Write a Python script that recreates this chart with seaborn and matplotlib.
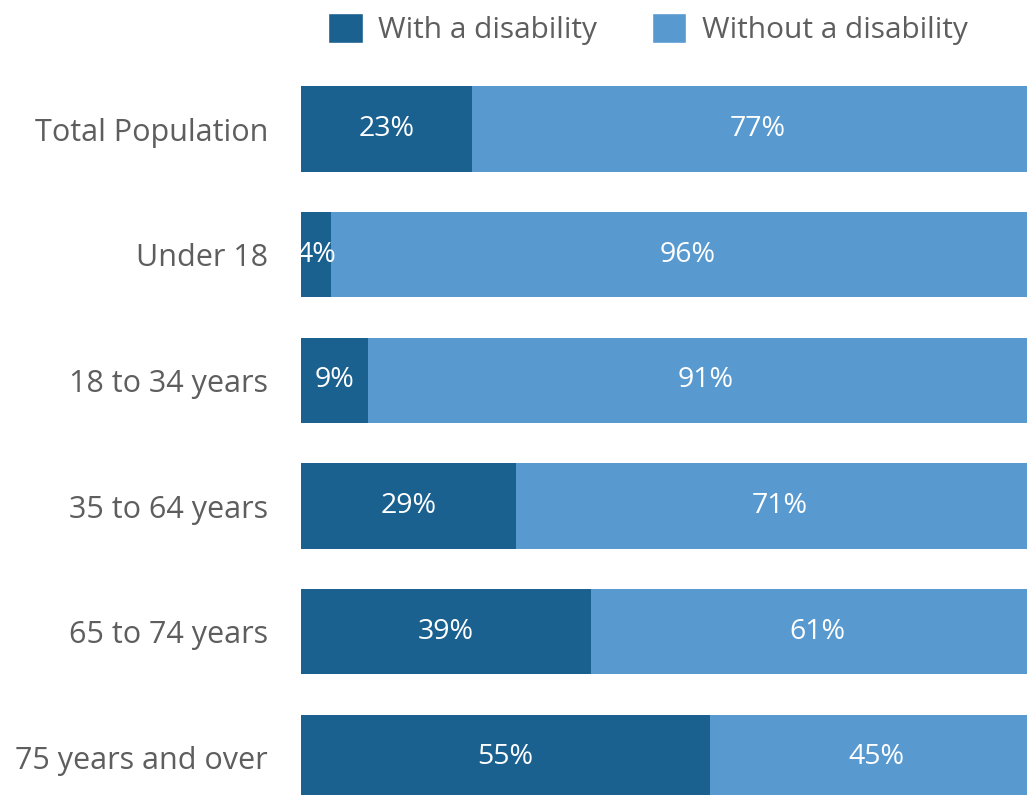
import pandas as pd
import matplotlib.pyplot as plt
import seaborn as sns
from matplotlib.patches import Patch

groups = ['Total Population', 'Under 18', '18 to 34 years', '35 to 64 years',
          '65 to 74 years', '75 years and over']
with_disability = [23, 4, 9, 29, 39, 55]
without_disability = [77, 96, 91, 71, 61, 45]

dark_blue = '#1a6190'
light_blue = '#5899d0'
text_grey = '#5e5e5e'

df = pd.DataFrame({
    'group': groups,
    'with': with_disability,
    'without': without_disability,
})
df['total'] = df['with'] + df['without']

sns.set_style('white')
plt.rcParams['font.family'] = ['Open Sans', 'DejaVu Sans']

fig = plt.figure(figsize=(10.27, 7.95), dpi=100)
ax = fig.add_axes([301 / 1027, 0, 743 / 1027, 1])

# full bar in light blue, then the with-disability part on top of it
sns.barplot(data=df, x='total', y='group', color=light_blue, width=0.68,
            saturation=1, ax=ax, orient='h', linewidth=0)
sns.barplot(data=df, x='with', y='group', color=dark_blue, width=0.68,
            saturation=1, ax=ax, orient='h', linewidth=0)

for i, row in df.iterrows():
    ax.text(row['with'] / 2, i, f"{row['with']}%", color='white',
            ha='center', va='center', fontsize=20.5)
    ax.text(row['with'] + row['without'] / 2, i, f"{row['without']}%",
            color='white', ha='center', va='center', fontsize=20.5)

ax.set_xlim(0, 100)
ax.set_ylim(5.30, -1.027)
ax.set_xlabel('')
ax.set_ylabel('')
ax.set_xticks([])
ax.tick_params(axis='y', length=0, pad=23.8, labelsize=22, labelcolor=text_grey)
sns.despine(ax=ax, left=True, bottom=True)

handles = [Patch(facecolor=dark_blue, label='With a disability'),
           Patch(facecolor=light_blue, label='Without a disability')]
fig.legend(handles=handles, loc='center', bbox_to_anchor=(648 / 1027, 1 - 29 / 795),
           ncol=2, frameon=False, fontsize=21.5, labelcolor=text_grey,
           handlelength=1.15, handleheight=1.15, handletextpad=0.52,
           columnspacing=1.84)

fig.savefig('out.png', dpi=100)
